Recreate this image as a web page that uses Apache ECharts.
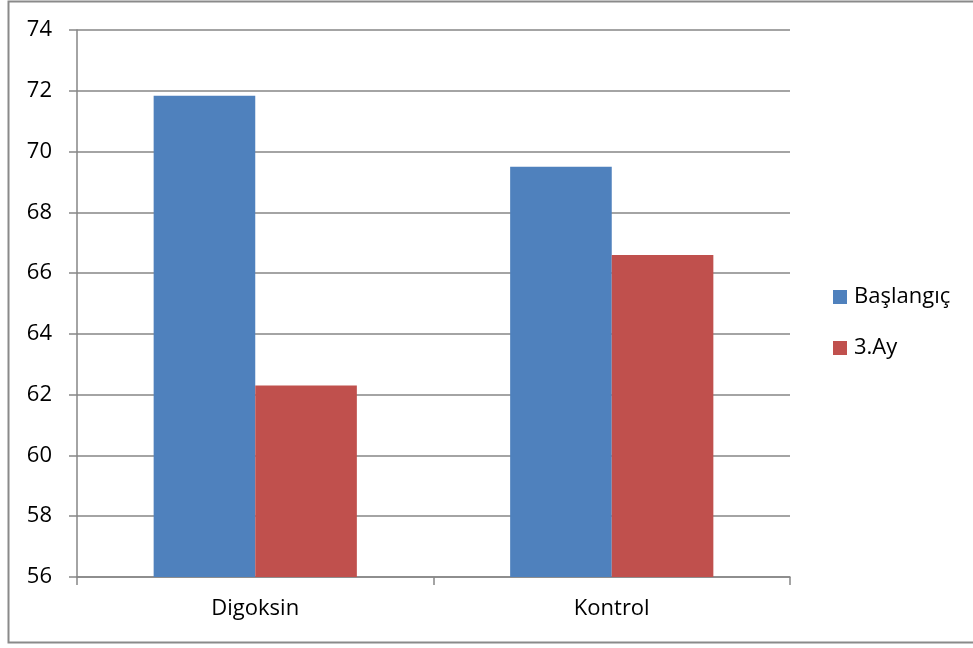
<!DOCTYPE html>
<html>
<head>
<meta charset="utf-8">
<script src="https://cdn.jsdelivr.net/npm/echarts@6/dist/echarts.min.js"></script>
<style>
  html, body { margin: 0; padding: 0; background: #fff; }
  #chart { width: 973px; height: 648px; }
</style>
</head>
<body>
<div id="chart"></div>
<script>
// Groups on the x axis
const categories = ['Digoksin', 'Kontrol'];
// Series values per group
const baslangic = [71.84, 69.5];
const ucuncuAy = [62.3, 66.6];
// Value axis range
const yMin = 56;
const yMax = 74;
const yStep = 2;

const FONT = 'Open Sans';
const FS = 22;
const chart = echarts.init(document.getElementById('chart'), null, { renderer: 'canvas' });

chart.setOption({
  backgroundColor: '#ffffff',
  animation: false,
  textStyle: { fontFamily: FONT },
  graphic: [{
    type: 'rect',
    shape: { x: 8.5, y: 1.5, width: 990, height: 641 },
    style: { fill: 'none', stroke: '#8a8a8a', lineWidth: 2 },
    silent: true,
    z: -1
  }],
  grid: { left: 77, right: 183, top: 30, bottom: 71, containLabel: false },
  legend: {
    orient: 'vertical',
    left: 828,
    top: 281,
    itemWidth: 14,
    itemHeight: 14,
    itemGap: 29,
    icon: 'rect',
    textStyle: { fontFamily: FONT, fontSize: FS, lineHeight: 22, color: '#000', padding: [0, 0, 0, 2] },
    data: ['Başlangıç', '3.Ay']
  },
  xAxis: {
    type: 'category',
    data: categories,
    axisLine: { lineStyle: { color: '#868686', width: 1.5 } },
    axisTick: { show: true, length: 8, lineStyle: { color: '#868686', width: 1.5 } },
    axisLabel: { fontFamily: FONT, fontSize: FS, color: '#000', margin: 21 }
  },
  yAxis: {
    type: 'value',
    min: yMin,
    max: yMax,
    interval: yStep,
    axisLine: { show: true, lineStyle: { color: '#868686', width: 1.5 } },
    axisTick: { show: true, length: 8, lineStyle: { color: '#868686', width: 1.5 } },
    axisLabel: { fontFamily: FONT, fontSize: FS, color: '#000', margin: 25 },
    splitLine: { show: true, lineStyle: { color: '#868686', width: 1.5 } }
  },
  series: [
    {
      name: 'Başlangıç',
      type: 'bar',
      data: baslangic,
      barGap: '0%',
      barCategoryGap: '43%',
      itemStyle: { color: '#4f81bd' }
    },
    {
      name: '3.Ay',
      type: 'bar',
      data: ucuncuAy,
      barGap: '0%',
      barCategoryGap: '43%',
      itemStyle: { color: '#c0504d' }
    }
  ]
});
</script>
</body>
</html>
